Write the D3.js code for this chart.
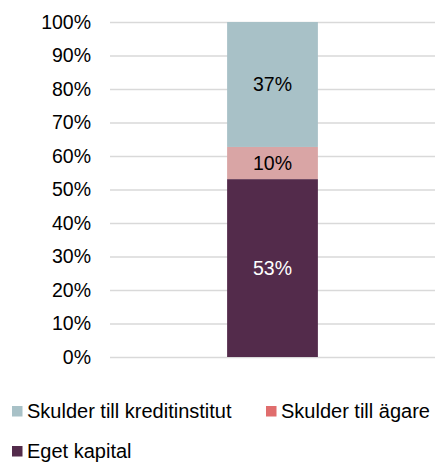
<!DOCTYPE html>
<html>
<head>
<meta charset="utf-8">
<script src="https://cdn.jsdelivr.net/npm/d3@7"></script>
<style>
  html, body { margin: 0; padding: 0; background: #fff; }
  text { font-family: "Liberation Sans", Arial, sans-serif; }
</style>
</head>
<body>
<div id="chart"></div>
<script>
// data
const categories = ['Eget kapital', 'Skulder till ägare', 'Skulder till kreditinstitut'];
const shares = [53.1, 9.6, 37.3];
const barColors = ['#532b4b', '#d9a5a5', '#a8c1c7'];
const legendColors = ['#532b4b', '#e06d6d', '#a8c1c7'];
const labelColors = ['#ffffff', '#000000', '#000000'];
const tickValues = [0, 10, 20, 30, 40, 50, 60, 70, 80, 90, 100];

const WIDTH = 436;
const HEIGHT = 465;
const margin = { top: 22, right: 1, bottom: 108, left: 110 };
const innerWidth = WIDTH - margin.left - margin.right;
const innerHeight = HEIGHT - margin.top - margin.bottom;

const svg = d3
  .select('#chart')
  .append('svg')
  .attr('width', WIDTH)
  .attr('height', HEIGHT);

const g = svg
  .append('g')
  .attr('transform', `translate(${margin.left},${margin.top})`);

// scales
const scaleY = d3.scaleLinear().domain([0, 100]).range([innerHeight, 0]);
const scaleX = d3
  .scaleBand()
  .domain(['total'])
  .range([0, innerWidth])
  .paddingInner(0)
  .paddingOuter(1.29);

// gridlines + tick labels
const axisY = d3
  .axisLeft(scaleY)
  .tickValues(tickValues)
  .tickSize(-innerWidth)
  .tickFormat((d) => d + '%');

const axisG = g.append('g').call(axisY);
axisG.select('.domain').remove();
axisG.selectAll('.tick line').attr('stroke', '#d9d9d9').attr('stroke-width', 1.3);
axisG
  .selectAll('.tick text')
  .attr('x', -19)
  .attr('fill', '#000')
  .style('font-size', '19.5px');

// stacked segments
const stackData = [Object.fromEntries(categories.map((c, i) => [c, shares[i]]))];
const series = d3.stack().keys(categories)(stackData);

const segs = g
  .selectAll('g.seg')
  .data(series)
  .join('g')
  .attr('class', 'seg');

segs
  .append('rect')
  .attr('x', scaleX('total'))
  .attr('width', scaleX.bandwidth())
  .attr('y', (d) => scaleY(d[0][1]))
  .attr('height', (d) => scaleY(d[0][0]) - scaleY(d[0][1]))
  .attr('fill', (d, i) => barColors[i]);

segs
  .append('text')
  .attr('x', scaleX('total') + scaleX.bandwidth() / 2)
  .attr('y', (d) => (scaleY(d[0][0]) + scaleY(d[0][1])) / 2)
  .attr('dy', '0.35em')
  .attr('text-anchor', 'middle')
  .attr('fill', (d, i) => labelColors[i])
  .style('font-size', '19.5px')
  .text((d, i) => Math.round(shares[i]) + '%');

// legend
const legendItems = [
  { name: categories[2], color: legendColors[2], x: 12, y: 411 },
  { name: categories[1], color: legendColors[1], x: 266, y: 411 },
  { name: categories[0], color: legendColors[0], x: 12, y: 451 },
];

const legend = svg
  .selectAll('g.legend')
  .data(legendItems)
  .join('g')
  .attr('class', 'legend')
  .attr('transform', (d) => `translate(${d.x},${d.y})`);

legend
  .append('rect')
  .attr('x', 0)
  .attr('y', -5)
  .attr('width', 10.5)
  .attr('height', 10.5)
  .attr('fill', (d) => d.color);

legend
  .append('text')
  .attr('x', 15)
  .attr('y', 0)
  .attr('dy', '0.35em')
  .attr('fill', '#000')
  .style('font-size', '20px')
  .text((d) => d.name);
</script>
</body>
</html>
